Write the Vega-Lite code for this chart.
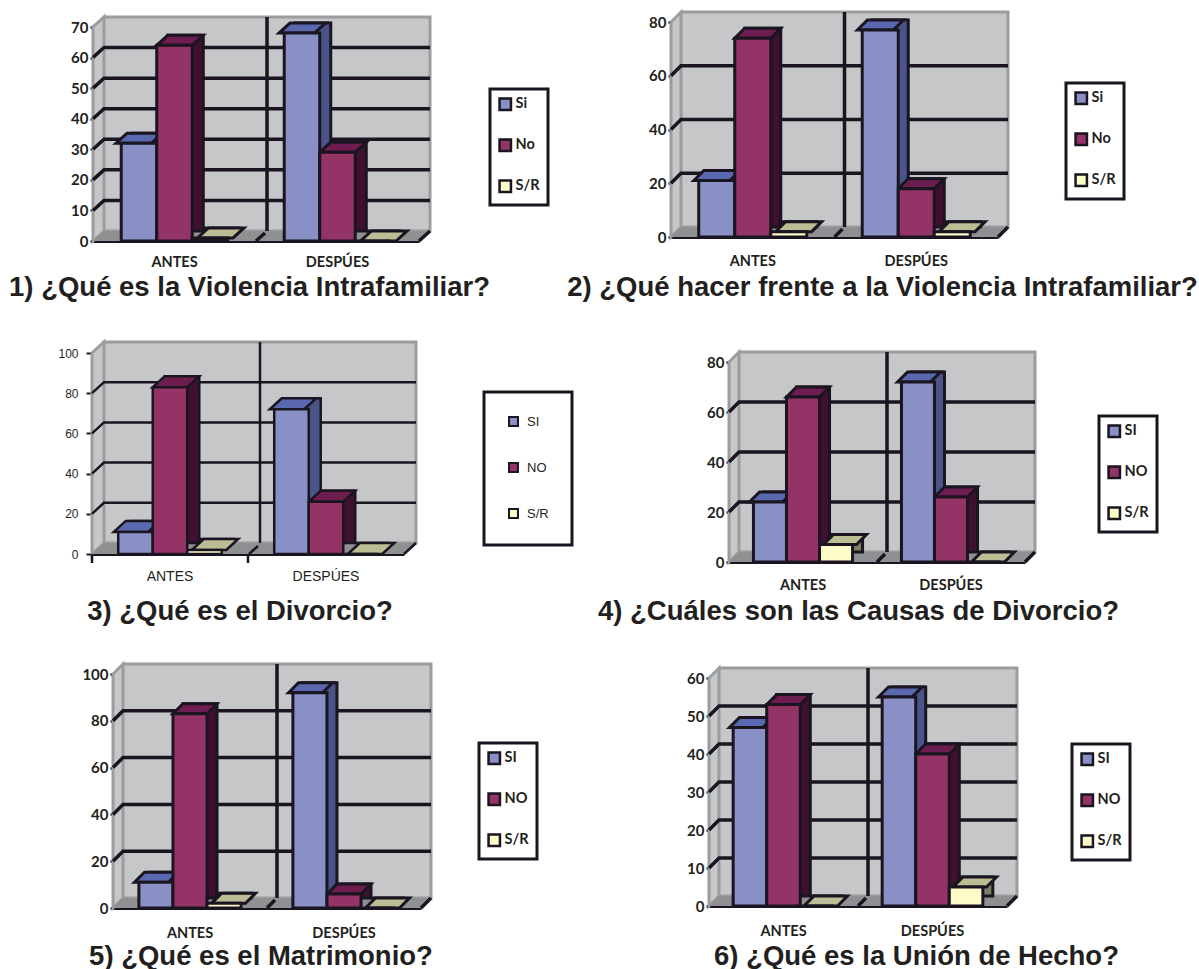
{"$schema":"https://vega.github.io/schema/vega-lite/v6.json","padding":0,"bounds":"flush","columns":2,"spacing":0,"background":"white","resolve":{"scale":{"xOffset":"independent","fill":"independent"}},
"config":{"view":{"stroke":null},"font":"Liberation Sans","title":{"font":"Liberation Sans","fontWeight":"bold","fontSize":27.5,"color":"#231f20","frame":"group","anchor":"middle"},
"axis":{"grid":false,"title":null,"domainColor":"#1a1520","domainWidth":3,"tickColor":"#1a1520","tickWidth":2.5,"labelColor":"#231f20","labelFont":"Lato","labelFontWeight":"bold","zindex":1},"axisX":{"labelAlign":"center"},
"legend":{"title":null,"orient":"none","strokeColor":"#1a1520","strokeWidth":3,"fillColor":"white","padding":8,"symbolType":"square","symbolSize":130,"symbolStrokeColor":"#1a1520","symbolStrokeWidth":2.5,"symbolOpacity":1,"labelFont":"Lato","labelFontWeight":"bold","labelFontSize":14.5,"labelColor":"#231f20","labelOffset":3,"rowPadding":19}},
"concat":[
{"width":599,"height":323,"title":{"text":"1) ¿Qué es la Violencia Intrafamiliar?","orient":"bottom","dx":-50,"offset":-49},
"data":{"values":[{"g":"ANTES","s":"Si","v":32},{"g":"ANTES","s":"No","v":64},{"g":"ANTES","s":"S/R","v":1},{"g":"DESPÚES","s":"Si","v":68},{"g":"DESPÚES","s":"No","v":29},{"g":"DESPÚES","s":"S/R","v":0}]},
"encoding":{"x":{"field":"g","type":"nominal","sort":null,"scale":{"type":"band","domain":["ANTES","DESPÚES"],"range":[93,419],"padding":0},"axis":{"offset":-82,"tickSize":0,"labelAngle":0,"labelFontSize":14.5,"labelPadding":21}},"y":{"field":"v","type":"quantitative","scale":{"domain":[0,70],"range":[241,27],"nice":false},"axis":{"offset":-93,"values":[0,10,20,30,40,50,60,70],"tickSize":3,"labelFontSize":15,"labelPadding":2}}},
"resolve":{"scale":{"fill":"independent","xOffset":"independent"}},
"layer":[
{"data":{"values":[{"v":0}]},"mark":{"type":"point","filled":true,"size":4,"opacity":1,"fill":"#c6c7c9","stroke":"#9b9c9e","strokeWidth":3,"shape":"M-163 0L-152 -10L-152 -224L-163 -214ZM-152 -10L174 -10L174 -224L-152 -224Z"},"encoding":{"x":{"datum":"ANTES","type":"nominal","bandPosition":1,"axis":{}}}},
{"data":{"values":[{"v":0}]},"mark":{"type":"point","filled":true,"size":4,"opacity":1,"fill":"#8f9092","shape":"M-163 0L163 0L174 -10L-152 -10Z"},"encoding":{"x":{"datum":"ANTES","type":"nominal","bandPosition":1,"axis":{}}}},
{"data":{"values":[{"v":10},{"v":20},{"v":30},{"v":40},{"v":50},{"v":60}]},"mark":{"type":"point","filled":false,"size":4,"opacity":1,"stroke":"#1a1520","strokeWidth":3.5,"shape":"M-163 0L-152 -10L174 -10"},"encoding":{"x":{"datum":"ANTES","type":"nominal","bandPosition":1,"axis":{}}}},
{"data":{"values":[{"v":0}]},"mark":{"type":"point","filled":false,"size":4,"opacity":1,"stroke":"#1a1520","strokeWidth":3.5,"shape":"M11 -10L11 -224M0 0L9 -8M163 0L174 -10"},"encoding":{"x":{"datum":"ANTES","type":"nominal","bandPosition":1,"axis":{}}}},
{"mark":{"type":"bar","yOffset":-10,"stroke":"#1a1520","strokeWidth":3},"encoding":{"xOffset":{"field":"s","sort":null,"scale":{"domain":["Si","No","S/R"],"range":[11,174],"paddingOuter":0.795,"paddingInner":0}},"fill":{"field":"s","legend":null,"scale":{"domain":["Si","No","S/R"],"range":["#4b5488","#3f1030","#7c8068"]}}}},
{"mark":{"type":"point","filled":true,"size":4,"opacity":1,"stroke":"#1a1520","strokeWidth":3,"shape":"M-17.75 0L17.75 0L28.75 -10L-6.75 -10Z"},"encoding":{"xOffset":{"field":"s","sort":null,"scale":{"type":"point","domain":["Si","No","S/R"],"padding":1.295}},"fill":{"field":"s","legend":null,"scale":{"domain":["Si","No","S/R"],"range":["#5a68b0","#6e1d50","#bcbd94"]}}}},
{"mark":{"type":"bar","stroke":"#1a1520","strokeWidth":3},"encoding":{"xOffset":{"field":"s","sort":null,"scale":{"domain":["Si","No","S/R"],"paddingOuter":0.795,"paddingInner":0}},"fill":{"field":"s","scale":{"domain":["Si","No","S/R"],"range":["#8890c6","#933366","#fdfbc8"]},"legend":{"legendX":490,"legendY":89}}}}
]},
{"width":599,"height":323,"title":{"text":"2) ¿Qué hacer frente a la Violencia Intrafamiliar?","orient":"bottom","dx":-16,"offset":-49},
"data":{"values":[{"g":"ANTES","s":"Si","v":21},{"g":"ANTES","s":"No","v":74},{"g":"ANTES","s":"S/R","v":2},{"g":"DESPÚES","s":"Si","v":77},{"g":"DESPÚES","s":"No","v":18},{"g":"DESPÚES","s":"S/R","v":2}]},
"encoding":{"x":{"field":"g","type":"nominal","sort":null,"scale":{"type":"band","domain":["ANTES","DESPÚES"],"range":[72,399],"padding":0},"axis":{"offset":-86,"tickSize":0,"labelAngle":0,"labelFontSize":14.5,"labelPadding":24}},"y":{"field":"v","type":"quantitative","scale":{"domain":[0,80],"range":[237,22],"nice":false},"axis":{"offset":-72,"values":[0,20,40,60,80],"tickSize":3,"labelFontSize":15,"labelPadding":2}}},
"resolve":{"scale":{"fill":"independent","xOffset":"independent"}},
"layer":[
{"data":{"values":[{"v":0}]},"mark":{"type":"point","filled":true,"size":4,"opacity":1,"fill":"#c6c7c9","stroke":"#9b9c9e","strokeWidth":3,"shape":"M-163.5 0L-153.5 -10L-153.5 -225L-163.5 -215ZM-153.5 -10L173.5 -10L173.5 -225L-153.5 -225Z"},"encoding":{"x":{"datum":"ANTES","type":"nominal","bandPosition":1,"axis":{}}}},
{"data":{"values":[{"v":0}]},"mark":{"type":"point","filled":true,"size":4,"opacity":1,"fill":"#8f9092","shape":"M-163.5 0L163.5 0L173.5 -10L-153.5 -10Z"},"encoding":{"x":{"datum":"ANTES","type":"nominal","bandPosition":1,"axis":{}}}},
{"data":{"values":[{"v":20},{"v":40},{"v":60}]},"mark":{"type":"point","filled":false,"size":4,"opacity":1,"stroke":"#1a1520","strokeWidth":3.5,"shape":"M-163.5 0L-153.5 -10L173.5 -10"},"encoding":{"x":{"datum":"ANTES","type":"nominal","bandPosition":1,"axis":{}}}},
{"data":{"values":[{"v":0}]},"mark":{"type":"point","filled":false,"size":4,"opacity":1,"stroke":"#1a1520","strokeWidth":3.5,"shape":"M10 -10L10 -225M0 0L8 -8M163.5 0L173.5 -10"},"encoding":{"x":{"datum":"ANTES","type":"nominal","bandPosition":1,"axis":{}}}},
{"mark":{"type":"bar","yOffset":-10,"stroke":"#1a1520","strokeWidth":3},"encoding":{"xOffset":{"field":"s","sort":null,"scale":{"domain":["Si","No","S/R"],"range":[10,173.5],"paddingOuter":0.77,"paddingInner":0}},"fill":{"field":"s","legend":null,"scale":{"domain":["Si","No","S/R"],"range":["#4b5488","#3f1030","#7c8068"]}}}},
{"mark":{"type":"point","filled":true,"size":4,"opacity":1,"stroke":"#1a1520","strokeWidth":3,"shape":"M-18 0L18 0L28 -10L-8 -10Z"},"encoding":{"xOffset":{"field":"s","sort":null,"scale":{"type":"point","domain":["Si","No","S/R"],"padding":1.27}},"fill":{"field":"s","legend":null,"scale":{"domain":["Si","No","S/R"],"range":["#5a68b0","#6e1d50","#bcbd94"]}}}},
{"mark":{"type":"bar","stroke":"#1a1520","strokeWidth":3},"encoding":{"xOffset":{"field":"s","sort":null,"scale":{"domain":["Si","No","S/R"],"paddingOuter":0.77,"paddingInner":0}},"fill":{"field":"s","scale":{"domain":["Si","No","S/R"],"range":["#8890c6","#933366","#fdfbc8"]},"legend":{"legendX":467,"legendY":83}}}}
]},
{"width":599,"height":323,"title":{"text":"3) ¿Qué es el Divorcio?","orient":"bottom","dx":-59.5,"offset":-48},
"data":{"values":[{"g":"ANTES","s":"SI","v":11},{"g":"ANTES","s":"NO","v":83},{"g":"ANTES","s":"S/R","v":2},{"g":"DESPÚES","s":"SI","v":72},{"g":"DESPÚES","s":"NO","v":26},{"g":"DESPÚES","s":"S/R","v":0}]},
"encoding":{"x":{"field":"g","type":"nominal","sort":null,"scale":{"type":"band","domain":["ANTES","DESPÚES"],"range":[92,404],"padding":0},"axis":{"offset":-92,"tickSize":0,"labelAngle":0,"labelFontSize":14,"labelFontWeight":"normal","labelPadding":22,"labelFont":"Liberation Sans"}},"y":{"field":"v","type":"quantitative","scale":{"domain":[0,100],"range":[231,30],"nice":false},"axis":{"offset":-92,"values":[0,20,40,60,80,100],"tickSize":6,"tickWidth":2,"domainWidth":2,"labelFontSize":12,"labelFontWeight":"normal","labelPadding":8,"labelFont":"Liberation Sans"}}},
"resolve":{"scale":{"fill":"independent","xOffset":"independent"}},
"layer":[
{"data":{"values":[{"v":0}]},"mark":{"type":"point","filled":true,"size":4,"opacity":1,"fill":"#c6c7c9","stroke":"#9b9c9e","strokeWidth":3,"shape":"M-156 0L-144 -11L-144 -212L-156 -201ZM-144 -11L168 -11L168 -212L-144 -212Z"},"encoding":{"x":{"datum":"ANTES","type":"nominal","bandPosition":1,"axis":{}}}},
{"data":{"values":[{"v":0}]},"mark":{"type":"point","filled":true,"size":4,"opacity":1,"fill":"#8f9092","shape":"M-156 0L156 0L168 -11L-144 -11Z"},"encoding":{"x":{"datum":"ANTES","type":"nominal","bandPosition":1,"axis":{}}}},
{"data":{"values":[{"v":20},{"v":40},{"v":60},{"v":80}]},"mark":{"type":"point","filled":false,"size":4,"opacity":1,"stroke":"#1a1520","strokeWidth":2.5,"shape":"M-156 0L-144 -11L168 -11"},"encoding":{"x":{"datum":"ANTES","type":"nominal","bandPosition":1,"axis":{}}}},
{"data":{"values":[{"v":0}]},"mark":{"type":"point","filled":false,"size":4,"opacity":1,"stroke":"#1a1520","strokeWidth":2.5,"shape":"M12 -11L12 -212M1 0L10 -8M156 0L168 -11M-156 0L-156 9M0 0L0 9"},"encoding":{"x":{"datum":"ANTES","type":"nominal","bandPosition":1,"axis":{}}}},
{"mark":{"type":"bar","yOffset":-11,"stroke":"#1a1520","strokeWidth":2.5},"encoding":{"xOffset":{"field":"s","sort":null,"scale":{"domain":["SI","NO","S/R"],"range":[12,168],"paddingOuter":0.76,"paddingInner":0}},"fill":{"field":"s","legend":null,"scale":{"domain":["SI","NO","S/R"],"range":["#4b5488","#3f1030","#7c8068"]}}}},
{"mark":{"type":"point","filled":true,"size":4,"opacity":1,"stroke":"#1a1520","strokeWidth":2.5,"shape":"M-17.25 0L17.25 0L29.25 -11L-5.25 -11Z"},"encoding":{"xOffset":{"field":"s","sort":null,"scale":{"type":"point","domain":["SI","NO","S/R"],"padding":1.26}},"fill":{"field":"s","legend":null,"scale":{"domain":["SI","NO","S/R"],"range":["#5a68b0","#6e1d50","#bcbd94"]}}}},
{"mark":{"type":"bar","stroke":"#1a1520","strokeWidth":2.5},"encoding":{"xOffset":{"field":"s","sort":null,"scale":{"domain":["SI","NO","S/R"],"paddingOuter":0.76,"paddingInner":0}},"fill":{"field":"s","scale":{"domain":["SI","NO","S/R"],"range":["#8890c6","#933366","#fdfbc8"]},"legend":{"legendX":484,"legendY":69,"padding":23,"rowPadding":29,"labelOffset":7,"labelFont":"Liberation Sans","labelFontWeight":"normal","labelFontSize":13,"symbolSize":80,"symbolStrokeWidth":2}}}}
]},
{"width":599,"height":323,"title":{"text":"4) ¿Cuáles son las Causas de Divorcio?","orient":"bottom","dx":-40,"offset":-48},
"data":{"values":[{"g":"ANTES","s":"SI","v":24},{"g":"ANTES","s":"NO","v":66},{"g":"ANTES","s":"S/R","v":7},{"g":"DESPÚES","s":"SI","v":72},{"g":"DESPÚES","s":"NO","v":26},{"g":"DESPÚES","s":"S/R","v":0}]},
"encoding":{"x":{"field":"g","type":"nominal","sort":null,"scale":{"type":"band","domain":["ANTES","DESPÚES"],"range":[130,426],"padding":0},"axis":{"offset":-84,"tickSize":0,"labelAngle":0,"labelFontSize":14.5,"labelPadding":23}},"y":{"field":"v","type":"quantitative","scale":{"domain":[0,80],"range":[239,39],"nice":false},"axis":{"offset":-130,"values":[0,20,40,60,80],"tickSize":3,"labelFontSize":15,"labelPadding":2}}},
"resolve":{"scale":{"fill":"independent","xOffset":"independent"}},
"layer":[
{"data":{"values":[{"v":0}]},"mark":{"type":"point","filled":true,"size":4,"opacity":1,"fill":"#c6c7c9","stroke":"#9b9c9e","strokeWidth":3,"shape":"M-148 0L-138 -10L-138 -210L-148 -200ZM-138 -10L158 -10L158 -210L-138 -210Z"},"encoding":{"x":{"datum":"ANTES","type":"nominal","bandPosition":1,"axis":{}}}},
{"data":{"values":[{"v":0}]},"mark":{"type":"point","filled":true,"size":4,"opacity":1,"fill":"#8f9092","shape":"M-148 0L148 0L158 -10L-138 -10Z"},"encoding":{"x":{"datum":"ANTES","type":"nominal","bandPosition":1,"axis":{}}}},
{"data":{"values":[{"v":20},{"v":40},{"v":60}]},"mark":{"type":"point","filled":false,"size":4,"opacity":1,"stroke":"#1a1520","strokeWidth":3.5,"shape":"M-148 0L-138 -10L158 -10"},"encoding":{"x":{"datum":"ANTES","type":"nominal","bandPosition":1,"axis":{}}}},
{"data":{"values":[{"v":0}]},"mark":{"type":"point","filled":false,"size":4,"opacity":1,"stroke":"#1a1520","strokeWidth":3.5,"shape":"M10 -10L10 -210M0 0L8 -8M148 0L158 -10"},"encoding":{"x":{"datum":"ANTES","type":"nominal","bandPosition":1,"axis":{}}}},
{"mark":{"type":"bar","yOffset":-10,"stroke":"#1a1520","strokeWidth":3},"encoding":{"xOffset":{"field":"s","sort":null,"scale":{"domain":["SI","NO","S/R"],"range":[10,158],"paddingOuter":0.74,"paddingInner":0}},"fill":{"field":"s","legend":null,"scale":{"domain":["SI","NO","S/R"],"range":["#4b5488","#3f1030","#7c8068"]}}}},
{"mark":{"type":"point","filled":true,"size":4,"opacity":1,"stroke":"#1a1520","strokeWidth":3,"shape":"M-16.5 0L16.5 0L26.5 -10L-6.5 -10Z"},"encoding":{"xOffset":{"field":"s","sort":null,"scale":{"type":"point","domain":["SI","NO","S/R"],"padding":1.24}},"fill":{"field":"s","legend":null,"scale":{"domain":["SI","NO","S/R"],"range":["#5a68b0","#6e1d50","#bcbd94"]}}}},
{"mark":{"type":"bar","stroke":"#1a1520","strokeWidth":3},"encoding":{"xOffset":{"field":"s","sort":null,"scale":{"domain":["SI","NO","S/R"],"paddingOuter":0.74,"paddingInner":0}},"fill":{"field":"s","scale":{"domain":["SI","NO","S/R"],"range":["#8890c6","#933366","#fdfbc8"]},"legend":{"legendX":500,"legendY":93}}}}
]},
{"width":599,"height":323,"title":{"text":"5) ¿Qué es el Matrimonio?","orient":"bottom","dx":-38.5,"offset":-26},
"data":{"values":[{"g":"ANTES","s":"SI","v":11},{"g":"ANTES","s":"NO","v":83},{"g":"ANTES","s":"S/R","v":2},{"g":"DESPÚES","s":"SI","v":92},{"g":"DESPÚES","s":"NO","v":6},{"g":"DESPÚES","s":"S/R","v":0}]},
"encoding":{"x":{"field":"g","type":"nominal","sort":null,"scale":{"type":"band","domain":["ANTES","DESPÚES"],"range":[113,421],"padding":0},"axis":{"offset":-61,"tickSize":0,"labelAngle":0,"labelFontSize":14.5,"labelPadding":25}},"y":{"field":"v","type":"quantitative","scale":{"domain":[0,100],"range":[262,28],"nice":false},"axis":{"offset":-113,"values":[0,20,40,60,80,100],"tickSize":3,"labelFontSize":15,"labelPadding":2}}},
"resolve":{"scale":{"fill":"independent","xOffset":"independent"}},
"layer":[
{"data":{"values":[{"v":0}]},"mark":{"type":"point","filled":true,"size":4,"opacity":1,"fill":"#c6c7c9","stroke":"#9b9c9e","strokeWidth":3,"shape":"M-154 0L-144 -10L-144 -244L-154 -234ZM-144 -10L164 -10L164 -244L-144 -244Z"},"encoding":{"x":{"datum":"ANTES","type":"nominal","bandPosition":1,"axis":{}}}},
{"data":{"values":[{"v":0}]},"mark":{"type":"point","filled":true,"size":4,"opacity":1,"fill":"#8f9092","shape":"M-154 0L154 0L164 -10L-144 -10Z"},"encoding":{"x":{"datum":"ANTES","type":"nominal","bandPosition":1,"axis":{}}}},
{"data":{"values":[{"v":20},{"v":40},{"v":60},{"v":80}]},"mark":{"type":"point","filled":false,"size":4,"opacity":1,"stroke":"#1a1520","strokeWidth":3.5,"shape":"M-154 0L-144 -10L164 -10"},"encoding":{"x":{"datum":"ANTES","type":"nominal","bandPosition":1,"axis":{}}}},
{"data":{"values":[{"v":0}]},"mark":{"type":"point","filled":false,"size":4,"opacity":1,"stroke":"#1a1520","strokeWidth":3.5,"shape":"M10 -10L10 -244M0 0L8 -8M154 0L164 -10"},"encoding":{"x":{"datum":"ANTES","type":"nominal","bandPosition":1,"axis":{}}}},
{"mark":{"type":"bar","yOffset":-10,"stroke":"#1a1520","strokeWidth":3},"encoding":{"xOffset":{"field":"s","sort":null,"scale":{"domain":["SI","NO","S/R"],"range":[10,164],"paddingOuter":0.76,"paddingInner":0}},"fill":{"field":"s","legend":null,"scale":{"domain":["SI","NO","S/R"],"range":["#4b5488","#3f1030","#7c8068"]}}}},
{"mark":{"type":"point","filled":true,"size":4,"opacity":1,"stroke":"#1a1520","strokeWidth":3,"shape":"M-17 0L17 0L27 -10L-7 -10Z"},"encoding":{"xOffset":{"field":"s","sort":null,"scale":{"type":"point","domain":["SI","NO","S/R"],"padding":1.26}},"fill":{"field":"s","legend":null,"scale":{"domain":["SI","NO","S/R"],"range":["#5a68b0","#6e1d50","#bcbd94"]}}}},
{"mark":{"type":"bar","stroke":"#1a1520","strokeWidth":3},"encoding":{"xOffset":{"field":"s","sort":null,"scale":{"domain":["SI","NO","S/R"],"paddingOuter":0.76,"paddingInner":0}},"fill":{"field":"s","scale":{"domain":["SI","NO","S/R"],"range":["#8890c6","#933366","#fdfbc8"]},"legend":{"legendX":479,"legendY":97}}}}
]},
{"width":599,"height":323,"title":{"text":"6) ¿Qué es la Unión de Hecho?","orient":"bottom","dx":18,"offset":-26},
"data":{"values":[{"g":"ANTES","s":"SI","v":47},{"g":"ANTES","s":"NO","v":53},{"g":"ANTES","s":"S/R","v":0},{"g":"DESPÚES","s":"SI","v":55},{"g":"DESPÚES","s":"NO","v":40},{"g":"DESPÚES","s":"S/R","v":5}]},
"encoding":{"x":{"field":"g","type":"nominal","sort":null,"scale":{"type":"band","domain":["ANTES","DESPÚES"],"range":[110,408],"padding":0},"axis":{"offset":-63,"tickSize":0,"labelAngle":0,"labelFontSize":14.5,"labelPadding":25}},"y":{"field":"v","type":"quantitative","scale":{"domain":[0,60],"range":[260,32],"nice":false},"axis":{"offset":-110,"values":[0,10,20,30,40,50,60],"tickSize":3,"labelFontSize":15,"labelPadding":2}}},
"resolve":{"scale":{"fill":"independent","xOffset":"independent"}},
"layer":[
{"data":{"values":[{"v":0}]},"mark":{"type":"point","filled":true,"size":4,"opacity":1,"fill":"#c6c7c9","stroke":"#9b9c9e","strokeWidth":3,"shape":"M-149 0L-139 -10L-139 -238L-149 -228ZM-139 -10L159 -10L159 -238L-139 -238Z"},"encoding":{"x":{"datum":"ANTES","type":"nominal","bandPosition":1,"axis":{}}}},
{"data":{"values":[{"v":0}]},"mark":{"type":"point","filled":true,"size":4,"opacity":1,"fill":"#8f9092","shape":"M-149 0L149 0L159 -10L-139 -10Z"},"encoding":{"x":{"datum":"ANTES","type":"nominal","bandPosition":1,"axis":{}}}},
{"data":{"values":[{"v":10},{"v":20},{"v":30},{"v":40},{"v":50}]},"mark":{"type":"point","filled":false,"size":4,"opacity":1,"stroke":"#1a1520","strokeWidth":3.5,"shape":"M-149 0L-139 -10L159 -10"},"encoding":{"x":{"datum":"ANTES","type":"nominal","bandPosition":1,"axis":{}}}},
{"data":{"values":[{"v":0}]},"mark":{"type":"point","filled":false,"size":4,"opacity":1,"stroke":"#1a1520","strokeWidth":3.5,"shape":"M10 -10L10 -238M0 0L8 -8M149 0L159 -10"},"encoding":{"x":{"datum":"ANTES","type":"nominal","bandPosition":1,"axis":{}}}},
{"mark":{"type":"bar","yOffset":-10,"stroke":"#1a1520","strokeWidth":3},"encoding":{"xOffset":{"field":"s","sort":null,"scale":{"domain":["SI","NO","S/R"],"range":[10,159],"paddingOuter":0.72,"paddingInner":0}},"fill":{"field":"s","legend":null,"scale":{"domain":["SI","NO","S/R"],"range":["#4b5488","#3f1030","#7c8068"]}}}},
{"mark":{"type":"point","filled":true,"size":4,"opacity":1,"stroke":"#1a1520","strokeWidth":3,"shape":"M-16.75 0L16.75 0L26.75 -10L-6.75 -10Z"},"encoding":{"xOffset":{"field":"s","sort":null,"scale":{"type":"point","domain":["SI","NO","S/R"],"padding":1.22}},"fill":{"field":"s","legend":null,"scale":{"domain":["SI","NO","S/R"],"range":["#5a68b0","#6e1d50","#bcbd94"]}}}},
{"mark":{"type":"bar","stroke":"#1a1520","strokeWidth":3},"encoding":{"xOffset":{"field":"s","sort":null,"scale":{"domain":["SI","NO","S/R"],"paddingOuter":0.72,"paddingInner":0}},"fill":{"field":"s","scale":{"domain":["SI","NO","S/R"],"range":["#8890c6","#933366","#fdfbc8"]},"legend":{"legendX":473,"legendY":98}}}}
]}
]}
